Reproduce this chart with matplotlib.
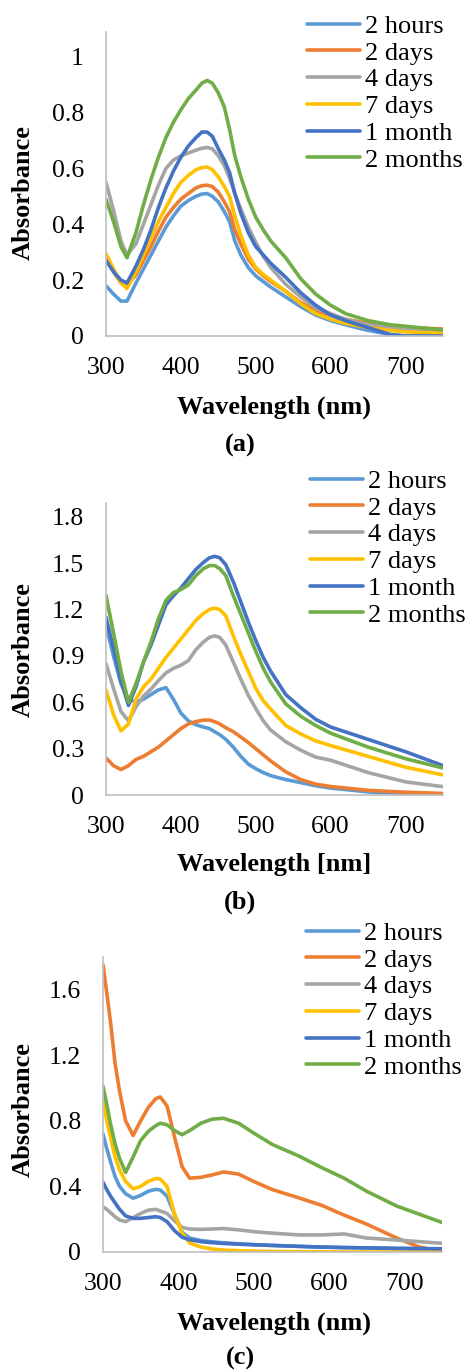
import matplotlib
matplotlib.use("Agg")
import matplotlib.pyplot as plt

plt.rcParams["font.family"] = ["Liberation Serif", "DejaVu Serif"]

W, H = 467, 1370

series_names = ["2 hours", "2 days", "4 days", "7 days", "1 month", "2 months"]
series_colors = ["#5B9BD5", "#ED7D31", "#A5A5A5", "#FFC000", "#4472C4", "#70AD47"]

# ---- panel (a) ----
wl_a = [300, 310, 320, 328, 340, 350, 360, 370, 380, 390, 400, 410, 420, 428, 435, 442, 450, 458,
        465, 472, 480, 490, 500, 510, 520, 540, 560, 580, 600, 620, 650, 680, 700, 725, 750]
a_2h = [0.18, 0.15, 0.125, 0.125, 0.19, 0.24, 0.29, 0.34, 0.39, 0.43, 0.465, 0.485, 0.50, 0.508, 0.51, 0.50, 0.48, 0.445,
        0.41, 0.34, 0.29, 0.245, 0.215, 0.195, 0.175, 0.14, 0.105, 0.075, 0.055, 0.04, 0.02, 0.005, 0.0, 0.0, 0.0]
a_2d = [0.285, 0.23, 0.19, 0.18, 0.22, 0.27, 0.32, 0.375, 0.425, 0.46, 0.49, 0.51, 0.53, 0.538, 0.54, 0.535, 0.515, 0.48,
        0.445, 0.38, 0.33, 0.275, 0.24, 0.215, 0.195, 0.16, 0.12, 0.09, 0.075, 0.06, 0.045, 0.035, 0.03, 0.028, 0.025]
a_4d = [0.55, 0.45, 0.34, 0.29, 0.33, 0.40, 0.47, 0.54, 0.60, 0.63, 0.645, 0.655, 0.665, 0.672, 0.675, 0.67, 0.645, 0.61,
        0.565, 0.51, 0.455, 0.39, 0.335, 0.285, 0.245, 0.185, 0.14, 0.10, 0.08, 0.06, 0.04, 0.03, 0.025, 0.022, 0.02]
a_7d = [0.295, 0.24, 0.19, 0.17, 0.23, 0.29, 0.35, 0.41, 0.46, 0.51, 0.55, 0.575, 0.595, 0.603, 0.605, 0.595, 0.57, 0.535,
        0.50, 0.43, 0.36, 0.29, 0.245, 0.22, 0.20, 0.16, 0.115, 0.08, 0.06, 0.045, 0.03, 0.02, 0.015, 0.012, 0.01]
a_1m = [0.27, 0.23, 0.20, 0.19, 0.25, 0.31, 0.38, 0.46, 0.53, 0.59, 0.64, 0.68, 0.71, 0.73, 0.73, 0.715, 0.67, 0.63,
        0.585, 0.51, 0.44, 0.37, 0.32, 0.29, 0.26, 0.21, 0.155, 0.11, 0.075, 0.055, 0.03, 0.005, 0.0, 0.0, 0.0]
a_2m = [0.49, 0.41, 0.32, 0.28, 0.37, 0.47, 0.56, 0.64, 0.71, 0.765, 0.81, 0.85, 0.88, 0.905, 0.915, 0.905, 0.87, 0.82,
        0.74, 0.645, 0.57, 0.49, 0.425, 0.38, 0.34, 0.28, 0.205, 0.15, 0.11, 0.08, 0.055, 0.04, 0.035, 0.028, 0.022]

# ---- panel (b) ----
wl_b = [300, 310, 320, 330, 340, 350, 360, 370, 380, 390, 400, 410, 420, 430, 438, 445, 452, 460,
        470, 480, 490, 500, 510, 520, 540, 560, 580, 600, 650, 700, 750]
b_2h = [1.10, 0.90, 0.72, 0.62, 0.60, 0.62, 0.65, 0.68, 0.695, 0.62, 0.53, 0.48, 0.455, 0.44, 0.43, 0.41, 0.39, 0.36,
        0.31, 0.25, 0.20, 0.17, 0.145, 0.125, 0.10, 0.08, 0.06, 0.045, 0.02, 0.008, 0.003]
b_2d = [0.24, 0.19, 0.165, 0.19, 0.23, 0.25, 0.28, 0.31, 0.35, 0.39, 0.43, 0.46, 0.475, 0.485, 0.485, 0.475, 0.46, 0.435,
        0.41, 0.375, 0.34, 0.30, 0.26, 0.22, 0.15, 0.10, 0.07, 0.055, 0.03, 0.018, 0.01]
b_4d = [0.85, 0.69, 0.54, 0.48, 0.57, 0.64, 0.685, 0.74, 0.79, 0.82, 0.84, 0.87, 0.94, 0.99, 1.02, 1.03, 1.02, 0.97,
        0.86, 0.75, 0.645, 0.56, 0.48, 0.42, 0.345, 0.29, 0.245, 0.225, 0.145, 0.085, 0.054]
b_7d = [0.68, 0.52, 0.415, 0.46, 0.62, 0.70, 0.75, 0.82, 0.89, 0.95, 1.01, 1.07, 1.13, 1.175, 1.20, 1.21, 1.20, 1.16,
        1.03, 0.91, 0.80, 0.69, 0.61, 0.555, 0.45, 0.395, 0.35, 0.32, 0.25, 0.18, 0.13]
b_1m = [1.15, 0.95, 0.74, 0.58, 0.70, 0.86, 0.97, 1.10, 1.23, 1.29, 1.34, 1.40, 1.46, 1.505, 1.535, 1.545, 1.535, 1.49,
        1.38, 1.25, 1.12, 1.00, 0.89, 0.80, 0.65, 0.565, 0.49, 0.44, 0.36, 0.28, 0.19]
b_2m = [1.29, 1.05, 0.80, 0.60, 0.72, 0.86, 0.99, 1.14, 1.26, 1.31, 1.33, 1.36, 1.42, 1.465, 1.485, 1.485, 1.465, 1.42,
        1.29, 1.17, 1.05, 0.93, 0.82, 0.73, 0.59, 0.51, 0.45, 0.40, 0.31, 0.235, 0.175]

# ---- panel (c) ----
wl_c = [300, 305, 310, 316, 322, 330, 340, 350, 360, 370, 376, 385, 395, 405, 415, 430,
        445, 460, 480, 500, 525, 560, 590, 620, 650, 690, 720, 750]
c_2h = [0.72, 0.63, 0.55, 0.46, 0.40, 0.355, 0.328, 0.345, 0.37, 0.382, 0.378, 0.34, 0.23, 0.12, 0.085, 0.07,
        0.062, 0.056, 0.05, 0.045, 0.04, 0.035, 0.03, 0.027, 0.025, 0.022, 0.02, 0.018]
c_2d = [1.75, 1.58, 1.40, 1.15, 0.98, 0.80, 0.71, 0.80, 0.88, 0.935, 0.945, 0.89, 0.70, 0.52, 0.45, 0.455,
        0.47, 0.488, 0.475, 0.43, 0.38, 0.33, 0.285, 0.225, 0.17, 0.085, 0.03, 0.005]
c_4d = [0.275, 0.26, 0.24, 0.215, 0.195, 0.185, 0.21, 0.235, 0.255, 0.26, 0.25, 0.235, 0.19, 0.15, 0.14, 0.138,
        0.14, 0.143, 0.135, 0.124, 0.115, 0.104, 0.104, 0.11, 0.085, 0.073, 0.063, 0.053]
c_7d = [0.93, 0.80, 0.70, 0.58, 0.50, 0.43, 0.385, 0.40, 0.43, 0.448, 0.445, 0.40, 0.23, 0.115, 0.055, 0.03,
        0.018, 0.012, 0.008, 0.005, 0.003, 0.002, 0.001, 0.0, 0.0, 0.0, 0.0, 0.0]
c_1m = [0.425, 0.38, 0.34, 0.30, 0.26, 0.22, 0.205, 0.205, 0.21, 0.215, 0.21, 0.185, 0.13, 0.09, 0.075, 0.063,
        0.057, 0.052, 0.048, 0.044, 0.04, 0.034, 0.03, 0.027, 0.025, 0.022, 0.021, 0.02]
c_2m = [1.01, 0.90, 0.78, 0.66, 0.57, 0.485, 0.58, 0.68, 0.735, 0.77, 0.785, 0.775, 0.74, 0.715, 0.74, 0.785,
        0.81, 0.815, 0.785, 0.725, 0.655, 0.585, 0.515, 0.45, 0.37, 0.28, 0.23, 0.18]

y_ticks_a = [0, 0.2, 0.4, 0.6, 0.8, 1]
y_labels_a = ["0", "0.2", "0.4", "0.6", "0.8", "1"]
y_ticks_b = [0, 0.3, 0.6, 0.9, 1.2, 1.5, 1.8]
y_labels_b = ["0", "0.3", "0.6", "0.9", "1.2", "1.5", "1.8"]
y_ticks_c = [0, 0.4, 0.8, 1.2, 1.6]
y_labels_c = ["0", "0.4", "0.8", "1.2", "1.6"]
x_ticks = [300, 400, 500, 600, 700]

panels = [
    dict(wl=wl_a, ys=[a_2h, a_2d, a_4d, a_7d, a_1m, a_2m], ylim=1.09,
         yticks=y_ticks_a, ylabels=y_labels_a, box=(106, 443, 31.5, 336),
         xlabel="Wavelength (nm)", tag="(a)", xl_y=407, ab_y=193, tag_y=445,
         leg=(307, 93)),
    dict(wl=wl_b, ys=[b_2h, b_2d, b_4d, b_7d, b_1m, b_2m], ylim=1.89,
         yticks=y_ticks_b, ylabels=y_labels_b, box=(106, 443, 503, 795),
         xlabel="Wavelength [nm]", tag="(b)", xl_y=865, ab_y=650, tag_y=902,
         leg=(310, 548)),
    dict(wl=wl_c, ys=[c_2h, c_2d, c_4d, c_7d, c_1m, c_2m], ylim=1.8,
         yticks=y_ticks_c, ylabels=y_labels_c, box=(103, 442, 956.7, 1252),
         xlabel="Wavelength (nm)", tag="(c)", xl_y=1323, ab_y=1110, tag_y=1358,
         leg=(306, 1000)),
]

fig = plt.figure(figsize=(W / 100, H / 100), dpi=100)
axis_grey = "#BFBFBF"

for p in panels:
    x0, x1, ytop, ybot = p["box"]
    ax = fig.add_axes([x0 / W, 1 - ybot / H, (x1 - x0) / W, (ybot - ytop) / H])
    for name, color, y in zip(series_names, series_colors, p["ys"]):
        ax.plot(p["wl"], y, color=color, lw=2.6, label=name,
                solid_capstyle="round", solid_joinstyle="round")
    ax.set_xlim(300, 750)
    ax.set_ylim(0, p["ylim"])
    ax.set_xticks(x_ticks)
    ax.set_xticklabels([str(t) for t in x_ticks])
    ax.set_yticks(p["yticks"])
    ax.set_yticklabels(p["ylabels"])
    for side in ("top", "right"):
        ax.spines[side].set_visible(False)
    for side in ("left", "bottom"):
        ax.spines[side].set_color(axis_grey)
        ax.spines[side].set_linewidth(1.2)
    ax.tick_params(axis="both", length=0, labelsize=18.5, colors="black")
    ax.tick_params(axis="x", pad=15)
    ax.tick_params(axis="y", pad=16)
    ax.patch.set_alpha(0)

    lx, ly = p["leg"]
    ax.legend(loc="center left", bbox_to_anchor=(lx / W, 1 - ly / H),
              bbox_transform=fig.transFigure, frameon=False, fontsize=19,
              handlelength=2.0, handletextpad=0.2, labelspacing=0.125,
              borderpad=0, borderaxespad=0)

    fig.text(274 / W, 1 - p["xl_y"] / H, p["xlabel"], ha="center", va="center",
             fontsize=19, fontweight="bold")
    fig.text(23 / W, 1 - p["ab_y"] / H, "Absorbance", ha="center", va="center",
             rotation=90, fontsize=19, fontweight="bold")
    fig.text(240 / W, 1 - p["tag_y"] / H, p["tag"], ha="center", va="center",
             fontsize=19, fontweight="bold")

fig.savefig("out.png", dpi=100)
